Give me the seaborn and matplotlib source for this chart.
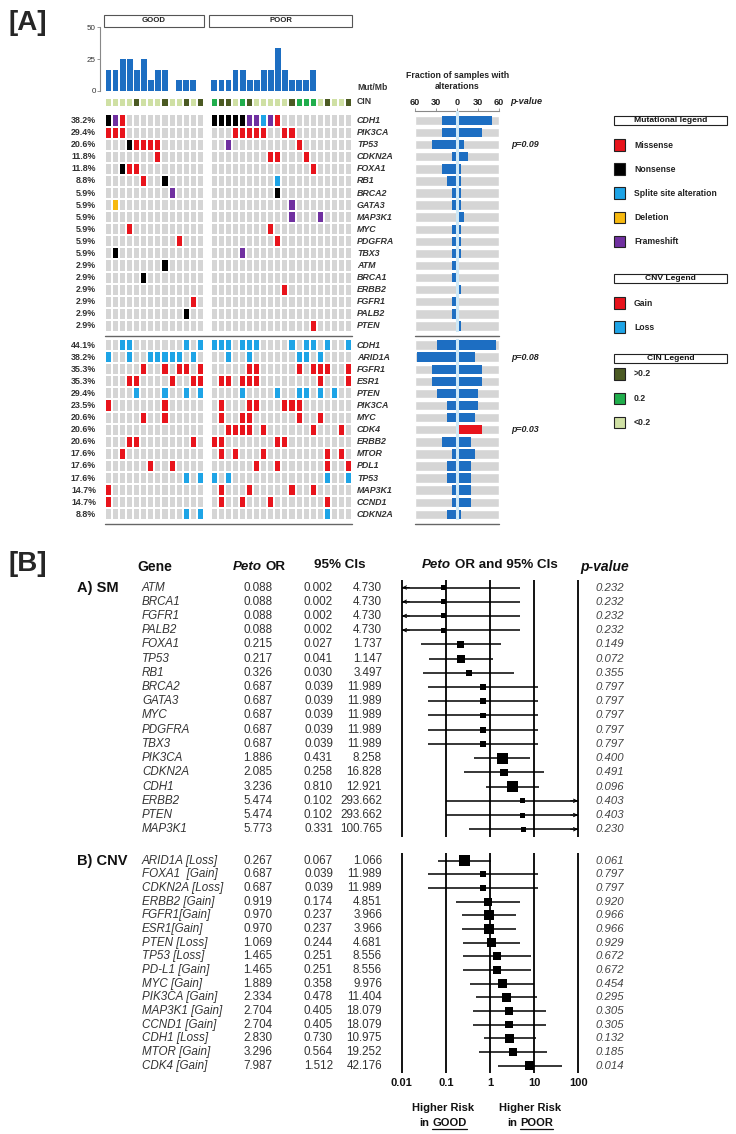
import numpy as np
import pandas as pd
import matplotlib
matplotlib.use("Agg")
import matplotlib.pyplot as plt
import seaborn as sns
from matplotlib.colors import ListedColormap
from matplotlib.patches import Rectangle
from matplotlib import transforms

sns.set_theme(style="white")
plt.rcParams["font.family"] = ["Liberation Sans", "DejaVu Sans"]

# ------------------------------------------------------------------ data
N_GOOD, N_POOR = 14, 20
mut_mb_good = [16.7, 16.7, 25, 25, 16.7, 25, 8.3, 16.7, 16.7, 0, 8.3, 8.3, 8.3, 0]
mut_mb_poor = [8.3, 8.3, 8.3, 16.7, 16.7, 8.3, 8.3, 16.7, 16.7, 33.3, 16.7, 8.3, 8.3, 8.3, 16.7, 0, 0, 0, 0, 0]
# CIN: L = <0.2, M = 0.2, H = >0.2
cin_good = "LLLLHLLLHLLHLH"
cin_poor = "MHHLMHLLLLLHMMMLHLLH"

# somatic mutations: M missense, N nonsense, S splice site, D deletion, F frameshift
sm_genes = ["CDH1", "PIK3CA", "TP53", "CDKN2A", "FOXA1", "RB1", "BRCA2", "GATA3", "MAP3K1",
            "MYC", "PDGFRA", "TBX3", "ATM", "BRCA1", "ERBB2", "FGFR1", "PALB2", "PTEN"]
sm_good = ["NFM...........", "MMM...........", "...NMMMM......", ".......M......",
           "..NMM.........", ".....M..N.....", ".........F....", ".D............",
           "..............", "...M..........", "..........M...", ".N............",
           "........N.....", ".....N........", "..............", "............M.",
           "...........N..", ".............."]
sm_poor = ["NNNNNFFSFM..........", "...MMMMM..MM........", "..F.........M.......",
           "........MM...M......", "..............M.....", ".........S..........",
           ".........N..........", "...........F........", "...........F...F....",
           "........M...........", ".........M..........", "....F...............",
           "....................", "....................", "..........M.........",
           "....................", "....................", "..............M....."]
sm_pvals = {"TP53": "p=0.09"}

# copy number: G gain, L loss
cnv_genes = ["CDH1", "ARID1A", "FGFR1", "ESR1", "PTEN", "PIK3CA", "MYC", "CDK4", "ERBB2",
             "MTOR", "PDL1", "TP53", "MAP3K1", "CCND1", "CDKN2A"]
cnv_good = ["..LL.......L.L", "L..L..LLLLL.L.", ".....G..G.GG.G", "...GG....G..GG",
            "....L...L..L.L", "G.......G.....", ".....G..G.....", "..............",
            "...GG.......G.", "..G...........", "......G..G....", "...........L.L",
            "G.............", "G.............", "...........L.L"]
cnv_poor = ["LLL.LLL....L.LL.L..L", "..L..L......LL.L....", ".....GG.....G.GGG..G",
            ".GG.GGG........G...G", "....L....L..LL.L.L..", ".G...GG...GGG.......",
            ".G..GG......G..G....", "..GGGG.G......G...G.", "GG.......GG.........",
            ".G.G...G........G.G.", "......G..G......G..G", "L.L.............L..L",
            ".G...G.....G..G.....", ".G..G...G.......G...", "................L..."]
cnv_pvals = {"ARID1A": "p=0.08", "CDK4": "p=0.03"}
cnv_significant = ["CDK4"]

# forest plot (Peto OR)
sm_f_genes = ["ATM", "BRCA1", "FGFR1", "PALB2", "FOXA1", "TP53", "RB1", "BRCA2", "GATA3", "MYC",
              "PDGFRA", "TBX3", "PIK3CA", "CDKN2A", "CDH1", "ERBB2", "PTEN", "MAP3K1"]
sm_or = [0.088, 0.088, 0.088, 0.088, 0.215, 0.217, 0.326, 0.687, 0.687, 0.687, 0.687, 0.687,
         1.886, 2.085, 3.236, 5.474, 5.474, 5.773]
sm_lo = [0.002, 0.002, 0.002, 0.002, 0.027, 0.041, 0.030, 0.039, 0.039, 0.039, 0.039, 0.039,
         0.431, 0.258, 0.810, 0.102, 0.102, 0.331]
sm_hi = [4.730, 4.730, 4.730, 4.730, 1.737, 1.147, 3.497, 11.989, 11.989, 11.989, 11.989, 11.989,
         8.258, 16.828, 12.921, 293.662, 293.662, 100.765]
sm_p = ["0.232", "0.232", "0.232", "0.232", "0.149", "0.072", "0.355", "0.797", "0.797", "0.797",
        "0.797", "0.797", "0.400", "0.491", "0.096", "0.403", "0.403", "0.230"]
sm_weight = [5, 5, 5, 5, 6.7, 8, 6, 5.7, 5.7, 5.7, 5.7, 5.7, 11, 7.3, 10.7, 5, 5, 5]

cnv_f_genes = ["ARID1A [Loss]", "FOXA1  [Gain]", "CDKN2A [Loss]", "ERBB2 [Gain]", "FGFR1[Gain]",
               "ESR1[Gain]", "PTEN [Loss]", "TP53 [Loss]", "PD-L1 [Gain]", "MYC [Gain]",
               "PIK3CA [Gain]", "MAP3K1 [Gain]", "CCND1 [Gain]", "CDH1 [Loss]", "MTOR [Gain]",
               "CDK4 [Gain]"]
cnv_or = [0.267, 0.687, 0.687, 0.919, 0.970, 0.970, 1.069, 1.465, 1.465, 1.889, 2.334, 2.704,
          2.704, 2.830, 3.296, 7.987]
cnv_lo = [0.067, 0.039, 0.039, 0.174, 0.237, 0.237, 0.244, 0.251, 0.251, 0.358, 0.478, 0.405,
          0.405, 0.730, 0.564, 1.512]
cnv_hi = [1.066, 11.989, 11.989, 4.851, 3.966, 3.966, 4.681, 8.556, 8.556, 9.976, 11.404, 18.079,
          18.079, 10.975, 19.252, 42.176]
cnv_p = ["0.061", "0.797", "0.797", "0.920", "0.966", "0.966", "0.929", "0.672", "0.672", "0.454",
         "0.295", "0.305", "0.305", "0.132", "0.185", "0.014"]
cnv_weight = [11, 6, 6, 8, 10, 10, 9.3, 8, 8, 9, 8.7, 7.3, 7.3, 9, 8, 9.3]

forest_ticks = [0.01, 0.1, 1, 10, 100]
forest_ticklabels = ["0.01", "0.1", "1", "10", "100"]

# ------------------------------------------------------------------ styles
W, H = 736, 1134
fig = plt.figure(figsize=(W / 100, H / 100), dpi=100)

GRAY = "#d5d5d5"
RED = "#e8141c"
BLACK = "#000000"
SKY = "#1ea4e6"
YEL = "#f7b90f"
PURP = "#7030a0"
BLUE = "#1d6ec2"
CIN_COL = {"L": "#cfe0a4", "M": "#20ae4c", "H": "#4b5a23"}
code = {".": 0, "M": 1, "G": 1, "N": 2, "S": 3, "L": 3, "D": 4, "F": 5}
onco_cmap = ListedColormap([GRAY, RED, BLACK, SKY, YEL, PURP])
TXT = "#333333"


def px_axes(x0, y0, x1, y1, **kw):
    return fig.add_axes([x0 / W, 1 - y1 / H, (x1 - x0) / W, (y1 - y0) / H], **kw)


NCOL = N_GOOD + 1 + N_POOR
GRID_X0, GRID_X1 = 105, 352
CW = (GRID_X1 - GRID_X0) / NCOL
sample_ids = [f"G{i+1}" for i in range(N_GOOD)] + ["gap"] + [f"P{i+1}" for i in range(N_POOR)]

# ------------------------------------------------------------------ Mut/Mb bars
ax_mb = px_axes(100, 27.3, GRID_X1, 90.7)
df_mb = pd.DataFrame({"sample": sample_ids, "mutmb": mut_mb_good + [0] + mut_mb_poor})
sns.barplot(data=df_mb, x="sample", y="mutmb", order=sample_ids, color=BLUE, saturation=1,
            width=0.82, linewidth=0, ax=ax_mb)
ax_mb.set_xlim(-0.5 - (GRID_X0 - 100) / CW, NCOL - 0.5)
ax_mb.set_ylim(0, 50)
ax_mb.set_yticks([0, 25, 50])
ax_mb.set_yticklabels(["0", "25", "50"])
ax_mb.set_xticks([])
ax_mb.set_xlabel("")
ax_mb.set_ylabel("")
for s in ["top", "right", "bottom"]:
    ax_mb.spines[s].set_visible(False)
ax_mb.spines["left"].set_color("#888888")
ax_mb.spines["left"].set_linewidth(0.8)
ax_mb.tick_params(axis="y", left=True, length=2, width=0.6, color="#888888", labelsize=5.8,
                  pad=1, labelcolor=TXT)
ax_mb.patch.set_alpha(0)

# ------------------------------------------------------------------ CIN row
ax_cin = px_axes(GRID_X0, 97.5, GRID_X1, 106.5)
cin_levels = ["L", "M", "H"]
cin_row = [cin_levels.index(c) for c in cin_good] + [np.nan] + [cin_levels.index(c) for c in cin_poor]
cin_arr = np.array([cin_row], dtype=float)
sns.heatmap(cin_arr, ax=ax_cin, cmap=ListedColormap([CIN_COL[c] for c in cin_levels]), vmin=-0.5,
            vmax=2.5, cbar=False, linewidths=1.1, linecolor="white", mask=np.isnan(cin_arr),
            xticklabels=False, yticklabels=False)


# ------------------------------------------------------------------ oncoprint + fraction bars
def onco(genes, good, poor, y0, y1, pvals, significant, top_axis):
    n = len(genes)
    rows = []
    for g, p in zip(good, poor):
        assert len(g) == N_GOOD and len(p) == N_POOR
        rows.append([code[c] for c in g] + [np.nan] + [code[c] for c in p])
    mat = np.array(rows, dtype=float)
    ax = px_axes(GRID_X0, y0, GRID_X1, y1)
    sns.heatmap(mat, ax=ax, cmap=onco_cmap, vmin=-0.5, vmax=5.5, cbar=False, linewidths=1.1,
                linecolor="white", mask=np.isnan(mat), xticklabels=False, yticklabels=False)
    for i, (g, a, b) in enumerate(zip(genes, good, poor)):
        cnt = sum(c != "." for c in a) + sum(c != "." for c in b)
        ax.text(-1.27, i + 0.5, f"{100 * cnt / (N_GOOD + N_POOR):.1f}%", ha="right", va="center",
                fontsize=6.4, fontweight="bold", color=TXT)
        ax.text(NCOL + (357 - GRID_X1) / CW, i + 0.5, g, ha="left", va="center", fontsize=6.4,
                fontweight="bold", fontstyle="italic", color=TXT)

    # fraction bars
    pitch = (y1 - y0) / n
    top_px = y0 - 3.7 if top_axis else y0
    axf = px_axes(415, top_px, 499, y1)
    good_pct = [100 * sum(c != "." for c in a) / N_GOOD for a in good]
    poor_pct = [100 * sum(c != "." for c in b) / N_POOR for b in poor]
    pal = {g: (RED if g in significant else BLUE) for g in genes}
    sns.barplot(x=[-v for v in good_pct], y=genes, hue=genes, palette=pal, legend=False,
                orient="h", width=0.78, saturation=1, linewidth=0, ax=axf)
    sns.barplot(x=poor_pct, y=genes, hue=genes, palette=pal, legend=False,
                orient="h", width=0.78, saturation=1, linewidth=0, ax=axf)
    axf.barh(np.arange(n), 120, left=-60, height=0.78, color=GRAY, zorder=0)
    axf.axvline(0, color="#cfe9f7", lw=2.2, zorder=5)
    axf.set_xlim(-60, 60)
    axf.set_ylim(n - 0.5, -0.5 - (y0 - top_px) / pitch)
    axf.set_xlabel("")
    axf.set_ylabel("")
    axf.tick_params(left=False, labelleft=False)
    for s in ["left", "right", "bottom", "top"]:
        axf.spines[s].set_visible(False)
    if top_axis:
        axf.spines["top"].set_visible(True)
        axf.spines["top"].set_color("#888888")
        axf.spines["top"].set_linewidth(0.8)
        axf.xaxis.tick_top()
        axf.set_xticks([-60, -30, 0, 30, 60])
        axf.set_xticklabels(["60", "30", "0", "30", "60"])
        axf.tick_params(axis="x", top=True, bottom=False, length=2, width=0.6, color="#888888",
                        labelsize=6.6, pad=1, labelcolor="#222222")
        for t in axf.get_xticklabels():
            t.set_fontweight("bold")
    else:
        axf.set_xticks([])
    axf.patch.set_alpha(0)
    for g, txt in pvals.items():
        axf.text(60 + (511 - 499) * 120 / 84, genes.index(g), txt, ha="left", va="center",
                 fontsize=6.4, fontweight="bold", fontstyle="italic", color="#222222")
    return ax, axf


onco(sm_genes, sm_good, sm_poor, 114.45, 332.0, sm_pvals, [], True)
onco(cnv_genes, cnv_good, cnv_poor, 339.0, 520.4, cnv_pvals, cnv_significant, False)


# ------------------------------------------------------------------ forest plots
def forest(genes, ors, los, his, ps, weights, y_top, y_bot, row0_px, pitch, title):
    n = len(genes)
    ax = px_axes(398, y_top, 582, y_bot)
    ax.set_xscale("log")
    ax.set_xlim(10 ** -2.0838, 10 ** 2.0838)
    ax.set_ylim((y_bot - row0_px) / pitch, (y_top - row0_px) / pitch)
    ax.axis("off")
    for v in forest_ticks:
        ax.axvline(v, color="black", lw=1.3, zorder=1)
    idx = np.arange(n)
    for k in range(n):
        lo_c, hi_c = max(los[k], forest_ticks[0]), min(his[k], forest_ticks[-1])
        ax.hlines(k, lo_c, hi_c, color="black", lw=1.1, zorder=2)
        if los[k] < forest_ticks[0]:
            ax.annotate("", xy=(forest_ticks[0] * 1.02, k), xytext=(forest_ticks[0] * 1.5, k),
                        arrowprops=dict(arrowstyle="->", lw=0.7, color="black",
                                        shrinkA=0, shrinkB=0, mutation_scale=6))
        if his[k] > forest_ticks[-1]:
            ax.annotate("", xy=(forest_ticks[-1] / 1.02, k), xytext=(forest_ticks[-1] / 1.5, k),
                        arrowprops=dict(arrowstyle="->", lw=0.7, color="black",
                                        shrinkA=0, shrinkB=0, mutation_scale=6))
    sns.scatterplot(x=ors, y=idx, marker="s", s=[(w * 0.72) ** 2 for w in weights],
                    color="black", linewidth=0, ax=ax, legend=False, zorder=3)
    ax.set_xlim(10 ** -2.0838, 10 ** 2.0838)
    ax.set_ylim((y_bot - row0_px) / pitch, (y_top - row0_px) / pitch)

    tr = transforms.blended_transform_factory(fig.transFigure, ax.transData)
    fs = 8.4
    for k in range(n):
        fig.text(142 / W, k, genes[k], transform=tr, ha="left", va="center", fontsize=fs,
                 fontstyle="italic", color=TXT)
        fig.text(258 / W, k, f"{ors[k]:.3f}", transform=tr, ha="center", va="center",
                 fontsize=fs, color=TXT)
        fig.text(333 / W, k, f"{los[k]:.3f}", transform=tr, ha="right", va="center",
                 fontsize=fs, color=TXT)
        fig.text(382 / W, k, f"{his[k]:.3f}", transform=tr, ha="right", va="center",
                 fontsize=fs, color=TXT)
        fig.text(596 / W, k, ps[k], transform=tr, ha="left", va="center", fontsize=8.2,
                 fontstyle="italic", color="#444444")
    fig.text(77 / W, 0, title, transform=tr, ha="left", va="center", fontsize=10.5,
             fontweight="bold", color="#111111")
    return ax


forest(sm_f_genes, sm_or, sm_lo, sm_hi, sm_p, sm_weight, 580, 837, 587.5, 14.22, "A) SM")
ax_cnvf = forest(cnv_f_genes, cnv_or, cnv_lo, cnv_hi, cnv_p, cnv_weight, 853, 1073, 860.7, 13.67,
                 "B) CNV")
trx = transforms.blended_transform_factory(ax_cnvf.transData, fig.transFigure)
for v, lab in zip(forest_ticks, forest_ticklabels):
    fig.text(v, 1 - 1083 / H, lab, transform=trx, ha="center", va="center", fontsize=8,
             fontweight="bold", color="#111111")

# ------------------------------------------------------------------ text helpers / decoration
renderer = fig.canvas.get_renderer()


def rich(x, y, parts, size, ha="left", color="#111111"):
    objs, widths = [], []
    for s, kw in parts:
        t = fig.text(0, 1 - y / H, s, fontsize=size, va="center", ha="left", color=color, **kw)
        widths.append(t.get_window_extent(renderer).width)
        objs.append(t)
    sp = size * 100 / 72 * 0.28
    total = sum(widths) + sp * (len(parts) - 1)
    x0 = {"left": x, "center": x - total / 2, "right": x - total}[ha]
    for t, w in zip(objs, widths):
        t.set_x(x0 / W)
        x0 += w + sp
    return objs


B = dict(fontweight="bold")
BI = dict(fontweight="bold", fontstyle="italic")

fig.text(8 / W, 1 - 23 / H, "[A]", fontsize=20, fontweight="bold", va="center", ha="left")
fig.text(8 / W, 1 - 564 / H, "[B]", fontsize=20, fontweight="bold", va="center", ha="left")

fig.text(357 / W, 1 - 87.3 / H, "Mut/Mb", fontsize=6.2, fontweight="bold", color=TXT,
         va="center", ha="left")
fig.text(357 / W, 1 - 102 / H, "CIN", fontsize=6.2, fontweight="bold", color=TXT,
         va="center", ha="left")
fig.text(457.5 / W, 1 - 76 / H, "Fraction of samples with", fontsize=6.3, fontweight="bold",
         color="#222222", va="center", ha="center")
fig.text(457.5 / W, 1 - 86.7 / H, "alterations", fontsize=6.3, fontweight="bold",
         color="#222222", va="center", ha="center")
fig.text(510 / W, 1 - 101.7 / H, "p-value", fontsize=6.6, fontweight="bold", fontstyle="italic",
         color="#222222", va="center", ha="left")

# forest headers
rich(137, 567, [("Gene", B)], 10)
rich(233, 567, [("Peto", BI), ("OR", B)], 9.6)
rich(340, 565, [("95% CIs", B)], 9.6, ha="center")
rich(490, 565, [("Peto", BI), ("OR and 95% CIs", B)], 9.6, ha="center")
rich(580, 567, [("p-value", BI)], 10)

rich(443, 1108, [("Higher Risk", B)], 8, ha="center")
good_t = rich(443, 1123, [("in", B), ("GOOD", B)], 8, ha="center")
rich(530, 1108, [("Higher Risk", B)], 8, ha="center")
poor_t = rich(530, 1123, [("in", B), ("POOR", B)], 8, ha="center")

deco = fig.add_axes([0, 0, 1, 1])
deco.set_xlim(0, W)
deco.set_ylim(H, 0)
deco.axis("off")
deco.patch.set_alpha(0)

for t in (good_t[1], poor_t[1]):
    bb = t.get_window_extent(renderer)
    deco.plot([bb.x0, bb.x1], [H - bb.y0 + 0.5, H - bb.y0 + 0.5], color="#111111", lw=0.9)

# group header boxes
for (x0, x1, lab) in [(104, 204, "GOOD"), (209, 352, "POOR")]:
    deco.add_patch(Rectangle((x0, 15), x1 - x0, 11.7, facecolor="white", edgecolor="#555555",
                             lw=0.8))
    deco.text((x0 + x1) / 2, 20.9, lab, ha="center", va="center", fontsize=5.6,
              fontweight="bold", color="#222222")

# separator lines for oncoprint / fraction panels
for yy in (335.7, 524.0):
    deco.plot([GRID_X0, GRID_X1], [yy, yy], color="#666666", lw=1.0)
    deco.plot([415, 499], [yy, yy], color="#666666", lw=1.0)

# legends
legend_blocks = [
    ("Mutational legend", 115.5, [(RED, "Missense", 145), (BLACK, "Nonsense", 169),
                                   (SKY, "Splite site alteration", 193), (YEL, "Deletion", 217.5),
                                   (PURP, "Frameshift", 241.5)]),
    ("CNV Legend", 273.5, [(RED, "Gain", 303), (SKY, "Loss", 327)]),
    ("CIN Legend", 354, [(CIN_COL["H"], ">0.2", 374), (CIN_COL["M"], "0.2", 398.5),
                         (CIN_COL["L"], "<0.2", 422.5)]),
]
for title, ty, items in legend_blocks:
    deco.add_patch(Rectangle((614, ty), 113, 9, facecolor="white", edgecolor="#222222", lw=0.8))
    deco.text(670.5, ty + 4.7, title, ha="center", va="center", fontsize=6.1, fontweight="bold",
              color="#111111")
    for col, lab, yc in items:
        deco.add_patch(Rectangle((613.5, yc - 6), 11.5, 11.5, facecolor=col, edgecolor="#222222",
                                 lw=0.8))
        deco.text(634, yc, lab, ha="left", va="center", fontsize=6.2, fontweight="bold",
                  color="#222222")

fig.savefig("out.png", dpi=100, facecolor="white")
